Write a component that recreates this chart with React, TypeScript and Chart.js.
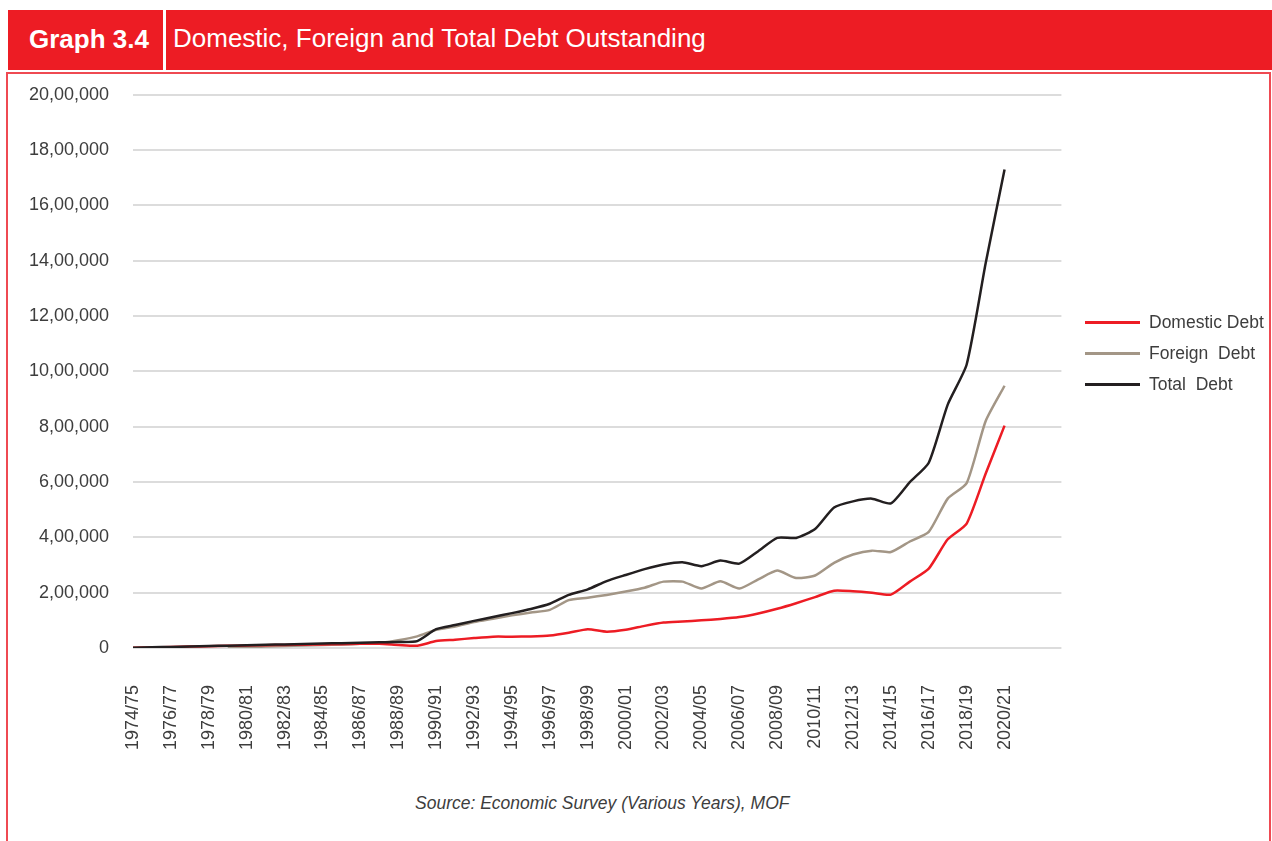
import React, { useEffect, useRef } from "react";
import { Chart, registerables } from "chart.js";

Chart.register(...registerables);

const categories = [
  "1974/75", "1975/76", "1976/77", "1977/78", "1978/79", "1979/80", "1980/81", "1981/82",
  "1982/83", "1983/84", "1984/85", "1985/86", "1986/87", "1987/88", "1988/89", "1989/90",
  "1990/91", "1991/92", "1992/93", "1993/94", "1994/95", "1995/96", "1996/97", "1997/98",
  "1998/99", "1999/00", "2000/01", "2001/02", "2002/03", "2003/04", "2004/05", "2005/06",
  "2006/07", "2007/08", "2008/09", "2009/10", "2010/11", "2011/12", "2012/13", "2013/14",
  "2014/15", "2015/16", "2016/17", "2017/18", "2018/19", "2019/20", "2020/21", "", "", "",
];

const domesticDebt = [
  1000, 2000, 3500, 5000, 6500, 8000, 9000, 10000, 11000, 12000, 13000, 14000, 15000, 15000,
  11000, 8000, 25000, 30000, 36000, 41000, 41000, 42000, 45000, 55000, 68000, 59000, 66000,
  80000, 92000, 96000, 100000, 105000, 112000, 125000, 142000, 162000, 184000, 207000, 205000,
  200000, 193000, 240000, 287000, 393000, 450000, 630000, 804000,
];

const foreignDebt = [
  null, null, null, null, null, 1000, 3000, 5000, 7000, 9000, 11000, 13000, 15000, 18000,
  28000, 42000, 66000, 78000, 94000, 106000, 118000, 128000, 138000, 173000, 182000, 192000,
  204000, 218000, 240000, 240000, 215000, 241000, 215000, 248000, 280000, 253000, 262000,
  308000, 338000, 352000, 347000, 385000, 420000, 540000, 596000, 820000, 948000,
];

const totalDebt = [
  1000, 2500, 4000, 5500, 7000, 8500, 10000, 11500, 13000, 14500, 16000, 17500, 19000, 20500,
  22000, 25000, 68000, 83000, 98000, 112000, 126000, 141000, 160000, 192000, 212000, 242000,
  264000, 285000, 302000, 310000, 296000, 316000, 305000, 350000, 398000, 398000, 430000,
  508000, 530000, 540000, 523000, 600000, 670000, 880000, 1025000, 1390000, 1730000,
];

const seriesNames = ["Domestic Debt", "Foreign  Debt", "Total  Debt"];
const seriesColors = ["#ed1c24", "#a39686", "#231f20"];

const yMax = 2000000;
const yStep = 200000;

function indianFormat(v: number): string {
  const s = Math.round(v).toString();
  if (s.length <= 3) return s;
  const last3 = s.slice(-3);
  let rest = s.slice(0, -3);
  const parts: string[] = [];
  while (rest.length > 2) {
    parts.unshift(rest.slice(-2));
    rest = rest.slice(0, -2);
  }
  if (rest.length) parts.unshift(rest);
  return parts.join(",") + "," + last3;
}

const FONT = "'Liberation Sans', Arial, Helvetica, sans-serif";

export default function App() {
  const canvasRef = useRef<HTMLCanvasElement | null>(null);

  useEffect(() => {
    document.body.style.margin = "0";
    document.body.style.overflow = "hidden";
    const ctx = canvasRef.current;
    if (!ctx) return;
    const chart = new Chart(ctx, {
      type: "line",
      data: {
        labels: categories,
        datasets: [
          {
            label: seriesNames[0],
            data: domesticDebt,
            borderColor: seriesColors[0],
            backgroundColor: seriesColors[0],
            borderWidth: 2.5,
            pointRadius: 0,
            tension: 0.2,
            order: 1,
          },
          {
            label: seriesNames[1],
            data: foreignDebt,
            borderColor: seriesColors[1],
            backgroundColor: seriesColors[1],
            borderWidth: 2.5,
            pointRadius: 0,
            tension: 0.2,
            order: 2,
          },
          {
            label: seriesNames[2],
            data: totalDebt,
            borderColor: seriesColors[2],
            backgroundColor: seriesColors[2],
            borderWidth: 2.5,
            pointRadius: 0,
            tension: 0.2,
            order: 0,
          },
        ],
      },
      options: {
        animation: false,
        responsive: true,
        maintainAspectRatio: false,
        layout: { padding: 0 },
        plugins: {
          legend: { display: false },
          tooltip: { enabled: false },
        },
        scales: {
          x: {
            type: "category",
            offset: false,
            grid: { display: false, drawTicks: false },
            border: { display: false },
            afterFit: (scale: any) => {
              scale.height = 110;
            },
            ticks: {
              autoSkip: false,
              minRotation: 90,
              maxRotation: 90,
              padding: 37,
              color: "#3d3d3d",
              font: { family: FONT, size: 18 },
              callback: function (this: any, _v: any, index: number) {
                return index % 2 === 0 ? categories[index] : "";
              },
            },
          },
          y: {
            min: 0,
            max: yMax,
            grid: { color: "#dcdcdc", lineWidth: 2, drawTicks: false },
            border: { display: false },
            afterFit: (scale: any) => {
              scale.width = 125;
            },
            ticks: {
              stepSize: yStep,
              padding: 24,
              color: "#3d3d3d",
              font: { family: FONT, size: 18 },
              callback: (v: any) => indianFormat(Number(v)),
            },
          },
        },
      },
    });
    return () => chart.destroy();
  }, []);

  const legendTop = [322, 353, 384];

  return (
    <div
      style={{
        position: "fixed",
        left: 0,
        top: 0,
        width: 1272,
        height: 841,
        background: "#fff",
        overflow: "hidden",
        fontFamily: FONT,
      }}
    >
      {/* header */}
      <div
        style={{
          position: "absolute",
          left: 8,
          top: 10,
          width: 1264,
          height: 60,
          background: "#ed1c24",
        }}
      >
        <div
          style={{
            position: "absolute",
            left: 21,
            top: 0,
            height: 60,
            lineHeight: "58px",
            color: "#fff",
            fontWeight: 700,
            fontSize: 26,
          }}
        >
          Graph 3.4
        </div>
        <div
          style={{
            position: "absolute",
            left: 155,
            top: 0,
            width: 3,
            height: 60,
            background: "#fff",
          }}
        />
        <div
          style={{
            position: "absolute",
            left: 165,
            top: 0,
            height: 60,
            lineHeight: "56px",
            color: "#fff",
            fontWeight: 400,
            fontSize: 26,
            whiteSpace: "nowrap",
          }}
        >
          Domestic, Foreign and Total Debt Outstanding
        </div>
      </div>

      {/* frame */}
      <div
        style={{
          position: "absolute",
          left: 6,
          top: 72,
          width: 1265,
          height: 800,
          boxSizing: "border-box",
          borderLeft: "2px solid #ef4a52",
          borderTop: "2px solid #ef4a52",
          borderRight: "2px solid #ef4a52",
        }}
      />

      {/* chart */}
      <div
        style={{
          position: "absolute",
          left: 8,
          top: 60,
          width: 1112,
          height: 698,
        }}
      >
        <canvas ref={canvasRef} />
      </div>

      {/* legend */}
      <div
        style={{
          position: "absolute",
          left: 1080,
          top: 0,
          width: 189,
          height: 841,
          overflow: "hidden",
        }}
      >
        {seriesNames.map((name, i) => (
          <div key={name}>
            <div
              style={{
                position: "absolute",
                left: 5,
                top: legendTop[i] - 1,
                width: 55,
                height: 3,
                background: seriesColors[i],
              }}
            />
            <div
              style={{
                position: "absolute",
                left: 69,
                top: legendTop[i] - 11,
                fontSize: 17.5,
                lineHeight: "22px",
                color: "#3d3d3d",
                whiteSpace: "pre",
              }}
            >
              {name}
            </div>
          </div>
        ))}
      </div>

      {/* source */}
      <div
        style={{
          position: "absolute",
          left: 415,
          top: 792,
          fontSize: 17.5,
          lineHeight: "22px",
          fontStyle: "italic",
          color: "#3d3d3d",
          whiteSpace: "nowrap",
        }}
      >
        Source: Economic Survey (Various Years), MOF
      </div>
    </div>
  );
}
